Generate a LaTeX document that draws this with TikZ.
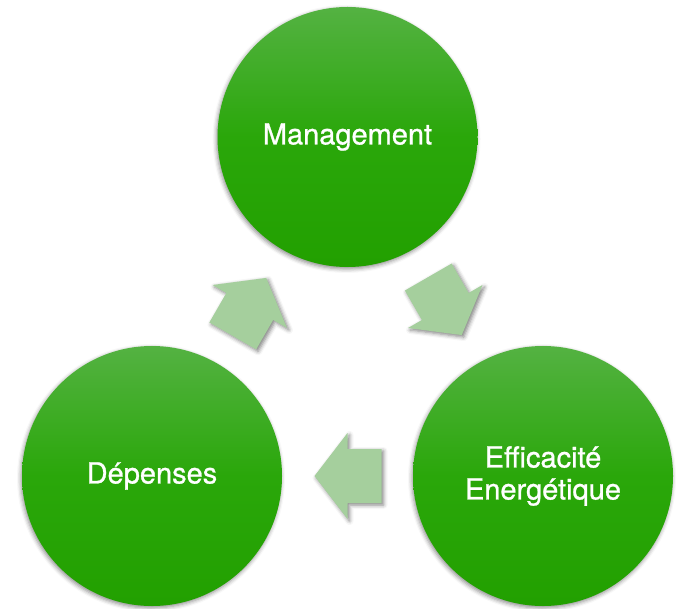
\documentclass[tikz,border=0pt]{standalone}
\usepackage{fontspec}
\setmainfont{TeX Gyre Heros}
\newfontfamily\bubblefont[FakeBold=0.9]{TeX Gyre Heros}
\usepackage{tikz}
\usetikzlibrary{calc, positioning, shadows.blur}
\definecolor{greentop}{RGB}{84,178,66}
\definecolor{greenmid}{RGB}{42,167,10}
\definecolor{greenbot}{RGB}{34,160,0}
\definecolor{arrowgreen}{RGB}{165,207,157}
\tikzset{
  bubble/.style={circle, minimum size=260pt, inner sep=0pt,
    top color=greentop, bottom color=greenbot, middle color=greenmid,
    text=white, align=center, font=\bubblefont\fontsize{29}{32}\selectfont,
    blur shadow={shadow xshift=-1pt, shadow yshift=-2pt, shadow blur radius=4pt, shadow opacity=45}},
  cyclearrow/.style={fill=arrowgreen,
    blur shadow={shadow xshift=2pt, shadow yshift=-2pt, shadow blur radius=4pt, shadow opacity=50}}
}
\begin{document}
\begin{tikzpicture}[x=1pt, y=1pt]
			\useasboundingbox (0,0) rectangle (679,608);
			\node [bubble] (mgmt) at (347.5,471) {Management};
			\node [bubble] (depenses) at (152,132) {Dépenses};
			\node [bubble] (effic) at (543,132) {Efficacité\\Energétique};
			\foreach \from/\to/\ang in {depenses/mgmt/60, mgmt/effic/-60, effic/depenses/180}
				\fill [cyclearrow, shift={($(\from)!0.5!(\to)$)}, rotate=\ang] (-34,-27) -- (0,-27) -- (0,-43) -- (33,0) -- (0,43) -- (0,27) -- (-34,27) -- cycle;
		\end{tikzpicture}
\end{document}
